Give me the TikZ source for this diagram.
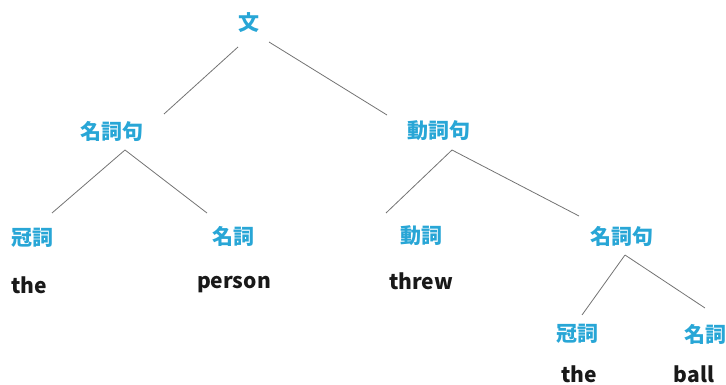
\documentclass[tikz,border=0pt]{standalone}
\usepackage{fontspec}
\newfontfamily\jpfont{Noto Sans CJK JP}
\definecolor{poscolor}{RGB}{40,166,214}
\definecolor{wordcolor}{RGB}{25,25,25}
\definecolor{branchcolor}{RGB}{115,115,115}

\begin{document}
\begin{tikzpicture}[x=1pt, y=-1pt,
		poslabel/.style={inner sep=0pt, text=poscolor, font=\jpfont\bfseries\fontsize{21}{21}\selectfont},
		word/.style={inner sep=0pt, text=wordcolor, font=\jpfont\bfseries\fontsize{21}{21}\selectfont},
		branch/.style={draw=branchcolor, line width=0.8pt}]
		\useasboundingbox (0,0) rectangle (726,385);
		
		\node at (249,23) [poslabel] (s) {文};
		\node at (112,131) [poslabel] (np1) {名詞句};
		\node at (439,131) [poslabel] (vp) {動詞句};
		\node at (33,238) [poslabel] (det1) {冠詞};
		\node at (233,236) [poslabel] (n1) {名詞};
		\node at (421,236) [poslabel] (v) {動詞};
		\node at (622,236) [poslabel] (np2) {名詞句};
		\node at (577,334) [poslabel] (det2) {冠詞};
		\node at (705,334) [poslabel] (n2) {名詞};
		
		\node at (29,285) [word] (the1) {the};
		\node at (234,285) [word] (person) {person};
		\node at (421,281) [word] (threw) {threw};
		\node at (579,374) [word] (the2) {the};
		\node at (694,374) [word] (ball) {ball};
		
		% branches leave a gap round the labels, so they start and end off the nodes' centres
		\draw [branch] ([shift={(-11,24)}]s.center) -- ([shift={(52,-17)}]np1.center);
		\draw [branch] ([shift={(20,19)}]s.center) -- ([shift={(-52,-16)}]vp.center);
		\draw [branch] ([shift={(13,19)}]np1.center) -- ([shift={(19,-25)}]det1.center);
		\draw [branch] ([shift={(13,19)}]np1.center) -- ([shift={(-26,-23)}]n1.center);
		\draw [branch] ([shift={(13,19)}]vp.center) -- ([shift={(-35,-23)}]v.center);
		\draw [branch] ([shift={(13,19)}]vp.center) -- ([shift={(-43,-20)}]np2.center);
		\draw [branch] ([shift={(3,19)}]np2.center) -- ([shift={(5,-19)}]det2.center);
		\draw [branch] ([shift={(3,19)}]np2.center) -- ([shift={(0,-26)}]n2.center);
		
\end{tikzpicture}
\end{document}
